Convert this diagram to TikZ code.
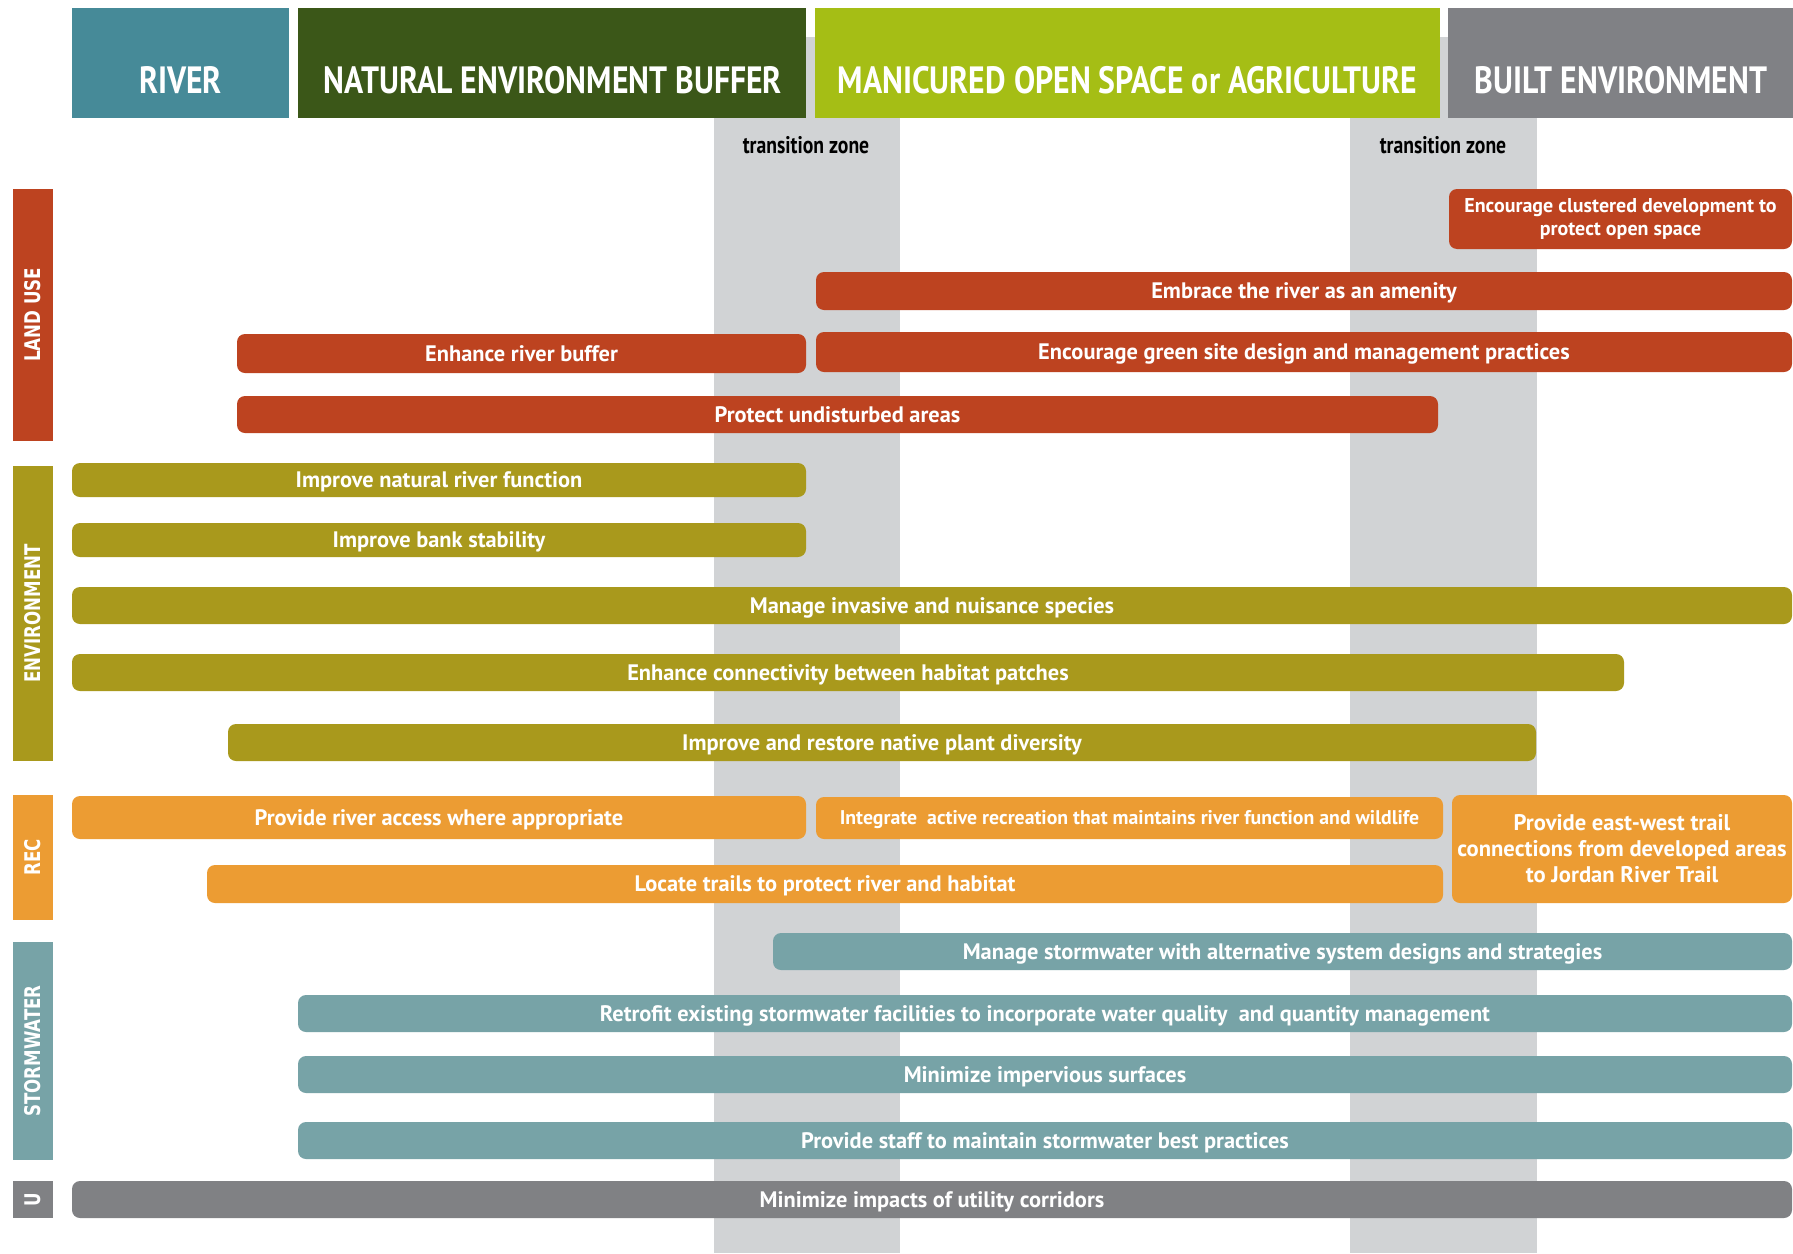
\documentclass[tikz,border=0pt]{standalone}
\usepackage{fontspec}
\setmainfont{PT Sans}
\newfontfamily\headfont{PT Sans}[FakeStretch=0.835]
\newfontfamily\zonefont{PT Sans}[FakeStretch=0.82]
\newfontfamily\barfont{PT Sans}
\newfontfamily\sidefont{DejaVu Sans}[FakeStretch=0.77]

\definecolor{riverteal}{HTML}{468A98}
\definecolor{buffergreen}{HTML}{3B5718}
\definecolor{openlime}{HTML}{A5BE15}
\definecolor{builtgray}{HTML}{808185}
\definecolor{zonegray}{HTML}{D1D3D5}
\definecolor{landred}{HTML}{BD4320}
\definecolor{envolive}{HTML}{A9991C}
\definecolor{recorange}{HTML}{EC9C33}
\definecolor{stormteal}{HTML}{77A3A7}
\definecolor{utilgray}{HTML}{808184}

% box spanning (x1,y1)-(x2,y2) in pixel units
\newcommand\planbox[7]{%
  \node[#6, minimum width={(#4-#2)*0.5pt}, minimum height={(#5-#3)*0.5pt}]
    (#1) at ({(#2+#4)/2},{(#3+#5)/2}) {#7};}

\tikzset{
  bar/.style={rounded corners=4pt, inner sep=0pt, text=white,
    font=\barfont\bfseries\fontsize{11.2}{13}\selectfont,
    text height=7.8pt, text depth=0pt, align=center},
  smallbar/.style={bar, font=\barfont\bfseries\fontsize{9.9}{12}\selectfont, text height=6.9pt},
  multibar/.style={bar, text height=, text depth=},
  landuse/.style={bar, fill=landred},
  envbar/.style={bar, fill=envolive},
  recbar/.style={bar, fill=recorange},
  stormbar/.style={bar, fill=stormteal},
  utilbar/.style={bar, fill=utilgray},
  sidebar/.style={inner sep=0pt, text=white},
  sidelabel/.style={rotate=90, text=white, inner sep=0pt,
    font=\sidefont\bfseries\fontsize{10.8}{13}\selectfont},
  header/.style={inner sep=0pt},
  headlabel/.style={anchor=base, text=white, inner sep=0pt,
    font=\headfont\bfseries\fontsize{19}{22}\selectfont},
  zonelabel/.style={inner sep=0pt, text=black,
    font=\zonefont\bfseries\fontsize{12}{14}\selectfont},
}

\begin{document}
\begin{tikzpicture}[x=0.5pt,y=-0.5pt]
  \fill[white] (0,0) rectangle (1793,1253);
  \useasboundingbox (0,0) rectangle (1793,1253);

  % transition zones
  \fill[zonegray] (714,37) rectangle (900,1253);
  \fill[zonegray] (1350,37) rectangle (1537,1253);
  \node[zonelabel] (tz1) at (806,145) {transition zone};
  \node[zonelabel] (tz2) at (1443,145) {transition zone};

  % column headers
  \planbox{hriver}{72}{8}{289}{118}{header, fill=riverteal}{}
  \planbox{hbuffer}{298}{8}{806}{118}{header, fill=buffergreen}{}
  \planbox{hopen}{815}{8}{1440}{118}{header, fill=openlime}{}
  \planbox{hbuilt}{1448}{8}{1793}{118}{header, fill=builtgray}{}
  \node[headlabel] (lriver) at (180.5,93.3) {RIVER};
  \node[headlabel] (lbuffer) at (553,93.3) {NATURAL ENVIRONMENT BUFFER};
  \node[headlabel] (lopen) at (1127.5,93.3) {MANICURED OPEN SPACE or AGRICULTURE};
  \node[headlabel] (lbuilt) at (1621,93.3) {BUILT ENVIRONMENT};

  % category side bars
  \planbox{slanduse}{13}{189}{53}{441}{sidebar, fill=landred}{}
  \planbox{senv}{13}{466}{53}{761}{sidebar, fill=envolive}{}
  \planbox{srec}{13}{795}{53}{920}{sidebar, fill=recorange}{}
  \planbox{sstorm}{13}{942}{53}{1160}{sidebar, fill=stormteal}{}
  \planbox{sutil}{13}{1181}{53}{1218}{sidebar, fill=utilgray}{}
  \node[sidelabel] (tlanduse) at (slanduse) {LAND USE};
  \node[sidelabel] (tenv) at (senv) {ENVIRONMENT};
  \node[sidelabel] (trec) at (srec) {REC};
  \node[sidelabel] (tstorm) at (sstorm) {STORMWATER};
  \node[sidelabel] (tutil) at (sutil) {U};

  % land use
  \planbox{clustered}{1449}{189}{1792}{249}{landuse, multibar, font=\barfont\bfseries\fontsize{10}{11.7}\selectfont}{Encourage clustered development to\\protect open space}
  \planbox{amenity}{816}{272}{1792}{310}{landuse}{Embrace the river as an amenity}
  \planbox{buffer}{237}{334}{806}{373}{landuse}{Enhance river buffer}
  \planbox{greensite}{816}{332}{1792}{372}{landuse}{Encourage green site design and management practices}
  \planbox{undisturbed}{237}{396}{1438}{433}{landuse}{Protect undisturbed areas}

  % environment
  \planbox{riverfn}{72}{463}{806}{497}{envbar}{Improve natural river function}
  \planbox{bank}{72}{523}{806}{557}{envbar}{Improve bank stability}
  \planbox{invasive}{72}{587}{1792}{624}{envbar}{Manage invasive and nuisance species}
  \planbox{connect}{72}{654}{1624}{691}{envbar}{Enhance connectivity between habitat patches}
  \planbox{native}{228}{724}{1536}{761}{envbar}{Improve and restore native plant diversity}

  % recreation
  \planbox{access}{72}{796}{806}{839}{recbar}{Provide river access where appropriate}
  \planbox{activerec}{816}{797}{1443}{839}{recbar, smallbar}{Integrate~ active recreation that maintains river function and wildlife}
  \planbox{eastwest}{1452}{795}{1792}{903}{recbar, multibar, font=\barfont\bfseries\fontsize{11.3}{13}\selectfont}{Provide east-west trail\\connections from developed areas\\to Jordan River Trail}
  \planbox{trails}{207}{865}{1443}{903}{recbar}{Locate trails to protect river and habitat}

  % stormwater
  \planbox{swalt}{773}{933}{1792}{970}{stormbar}{Manage stormwater with alternative system designs and strategies}
  \planbox{retrofit}{298}{995}{1792}{1032}{stormbar}{Retrofit existing stormwater facilities to incorporate water quality~ and quantity management}
  \planbox{impervious}{298}{1056}{1792}{1093}{stormbar}{Minimize impervious surfaces}
  \planbox{staff}{298}{1122}{1792}{1159}{stormbar}{Provide staff to maintain stormwater best practices}

  % utilities
  \planbox{utility}{72}{1181}{1792}{1218}{utilbar}{Minimize impacts of utility corridors}
\end{tikzpicture}
\end{document}
